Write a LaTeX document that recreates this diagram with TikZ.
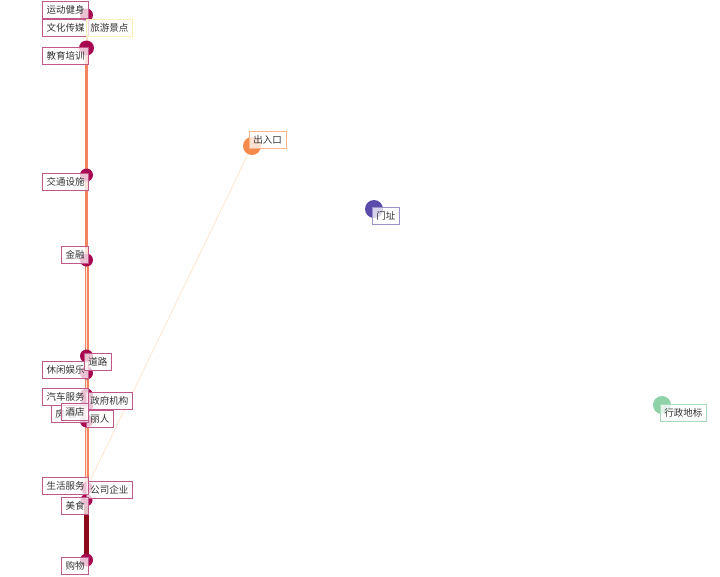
\documentclass[tikz,border=0pt]{standalone}
\usepackage{fontspec}
\setmainfont{Noto Sans CJK SC}
\begin{document}
\begin{tikzpicture}[x=1pt,y=-1pt,
  dot/.style={circle,fill=#1,draw=none,inner sep=0pt},
  lbl/.style={draw=#1,line width=0.9pt,fill=white,fill opacity=0.75,text opacity=1,
    text=black!80,font=\fontsize{9.5}{11}\selectfont,inner xsep=4pt,inner ysep=0pt,
    minimum height=17pt},
  edgeA/.style={draw=#1,line width=3pt}
]
\definecolor{mag}{HTML}{A8084F}
\definecolor{magb}{HTML}{C0588A}
\definecolor{orn}{HTML}{F58A4B}
\definecolor{ornb}{HTML}{F9B48A}
\definecolor{pur}{HTML}{5A4CA8}
\definecolor{purb}{HTML}{9A90CC}
\definecolor{grn}{HTML}{90D2A8}
\definecolor{grnb}{HTML}{A8DCBC}
\definecolor{yelb}{HTML}{FFF0B0}
\definecolor{edgeo}{HTML}{F4845F}
\definecolor{edgep}{HTML}{FDE3CC}
\definecolor{edgel}{HTML}{FDE6D0}
\definecolor{edged}{HTML}{8B0A1A}
\useasboundingbox (0,0) rectangle (720,576);
% dots (coordinates for edges)
\coordinate (n1) at (86.5,15);
\coordinate (n2) at (86.5,48);
\coordinate (n3) at (86.5,175);
\coordinate (n4) at (86.5,260);
\coordinate (n5) at (86.5,356);
\coordinate (n6) at (86.5,373);
\coordinate (n7) at (86.5,395);
\coordinate (n8) at (86.5,406);
\coordinate (n9) at (86.5,421);
\coordinate (n10) at (86.5,488);
\coordinate (n11) at (86.5,500);
\coordinate (n12) at (86.5,560);
\coordinate (ck) at (252,146);
% edges
\draw[draw=edgep,line width=2pt] (n1) -- (n2);
\draw[edgeA=edgeo] (n2) -- (n3);
\draw[edgeA=edgeo] (n3) -- (n4);
\draw[draw=edgeo,line width=4pt] (n4) -- (n10);
\draw[draw=edgep,line width=1.4pt] (n4) -- (n10);
\draw[draw=edgeo!80,line width=3pt] (n10) -- (n11);
\draw[draw=edged,line width=5pt] (n11) -- (n12);
\draw[draw=edgel,line width=0.8pt] (ck) -- (n10);
% dot nodes
\node[dot=mag,minimum size=13pt] (d1) at (n1) {};
\node[dot=mag,minimum size=15pt] (d2) at (n2) {};
\node[dot=mag,minimum size=13pt] (d3) at (n3) {};
\node[dot=mag,minimum size=13pt] (d4) at (n4) {};
\node[dot=mag,minimum size=13pt] (d5) at (n5) {};
\node[dot=mag,minimum size=13pt] (d6) at (n6) {};
\node[dot=mag,minimum size=13pt] (d7) at (n7) {};
\node[dot=mag,minimum size=13pt] (d8) at (n8) {};
\node[dot=mag,minimum size=13pt] (d9) at (n9) {};
\node[dot=mag,minimum size=12pt] (d10) at (n10) {};
\node[dot=mag,minimum size=12pt] (d11) at (n11) {};
\node[dot=mag,minimum size=13pt] (d12) at (n12) {};
\node[dot=orn,minimum size=18pt] (dck) at (ck) {};
\node[dot=pur,minimum size=18pt] (dmz) at (374,209) {};
\node[dot=grn,minimum size=18pt] (dxz) at (662,405) {};
% labels
\node[lbl=magb,anchor=north east] (l1) at (89,1) {运动健身};
\node[lbl=magb,anchor=north east] (l2) at (89,19) {文化传媒};
\node[lbl=yelb,anchor=north west] (l3) at (86,19) {旅游景点};
\node[lbl=magb,anchor=north east] (l4) at (89,47) {教育培训};
\node[lbl=magb,anchor=north east] (l5) at (89,173) {交通设施};
\node[lbl=magb,anchor=north east] (l6) at (89,246) {金融};
\node[lbl=magb,anchor=north east] (l8) at (89,361) {休闲娱乐};
\node[lbl=magb,anchor=north west] (l7) at (84,353) {道路};
\node[lbl=magb,anchor=north west] (l11) at (86,409.5) {丽人};
\node[lbl=magb,anchor=north west] (l10) at (86,392) {政府机构};
\node[lbl=magb,anchor=north west] (l12) at (51,404.5) {房地产};
\node[lbl=magb,anchor=north east] (l9) at (89,388) {汽车服务};
\node[lbl=magb,anchor=north east] (l13) at (89,403) {酒店};
\node[lbl=magb,anchor=north west] (l15) at (86,481) {公司企业};
\node[lbl=magb,anchor=north east] (l14) at (89,477) {生活服务};
\node[lbl=magb,anchor=north east] (l16) at (89,497) {美食};
\node[lbl=magb,anchor=north east] (l17) at (89,557) {购物};
\node[lbl=ornb,anchor=north west] (l18) at (249,131) {出入口};
\node[lbl=purb,anchor=north west] (l19) at (372,207) {门址};
\node[lbl=grnb,anchor=north west] (l20) at (660,404) {行政地标};
\end{tikzpicture}
\end{document}
